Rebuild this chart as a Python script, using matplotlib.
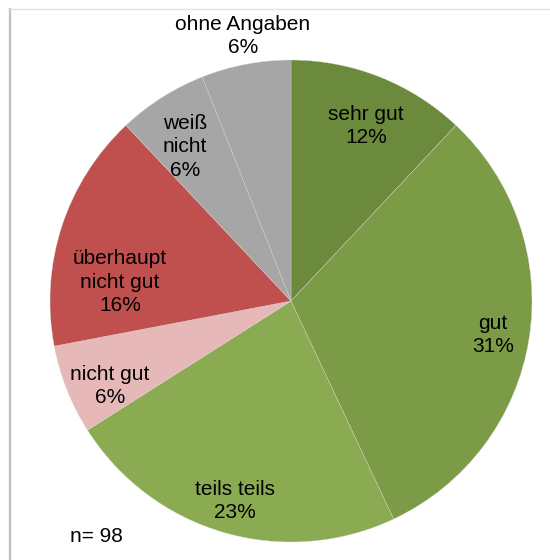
import matplotlib.pyplot as plt
from matplotlib.lines import Line2D

plt.rcParams['font.family'] = ['Liberation Sans', 'DejaVu Sans']

labels = ['sehr gut', 'gut', 'teils teils', 'nicht gut',
          'überhaupt\nnicht gut', 'weiß\nnicht', 'ohne Angaben']
values = [12, 31, 23, 6, 16, 6, 6]
colors = ['#6C8A3C', '#7B9B47', '#8BAB52', '#E6B9B8',
          '#C0504D', '#A6A6A6', '#A6A6A6']
n_total = 98

# label positions (figure pixel coords, y from top)
label_pos = [(366, 126), (493, 335), (235, 501), (110, 386),
             (120, 282), (185, 147), (243, 36)]

fig = plt.figure(figsize=(5.5, 5.6), dpi=100)
ax = fig.add_axes([0, 0, 1, 1])

ax.pie(values, colors=colors, startangle=90, counterclock=False,
       center=(291, 560 - 301), radius=241,
       wedgeprops=dict(edgecolor='#D8D8D8', linewidth=0.25))
ax.set_xlim(0, 550)
ax.set_ylim(0, 560)
ax.set_aspect('equal')
ax.axis('off')

for lab, v, (x, y) in zip(labels, values, label_pos):
    ax.text(x, 560 - y, f'{lab}\n{v}%', ha='center', va='center',
            fontsize=15, color='black', linespacing=1.3)

ax.text(96, 560 - 537, f'n= {n_total}', ha='center', va='center',
        fontsize=15, color='black')

# chart frame (left and top)
ax.add_line(Line2D([10, 10], [0, 560 - 9], color='#BFBFBF', linewidth=1.6))
ax.add_line(Line2D([10, 550], [560 - 9, 560 - 9], color='#E3E3E3', linewidth=1.0))

fig.savefig('out.png', dpi=100)
